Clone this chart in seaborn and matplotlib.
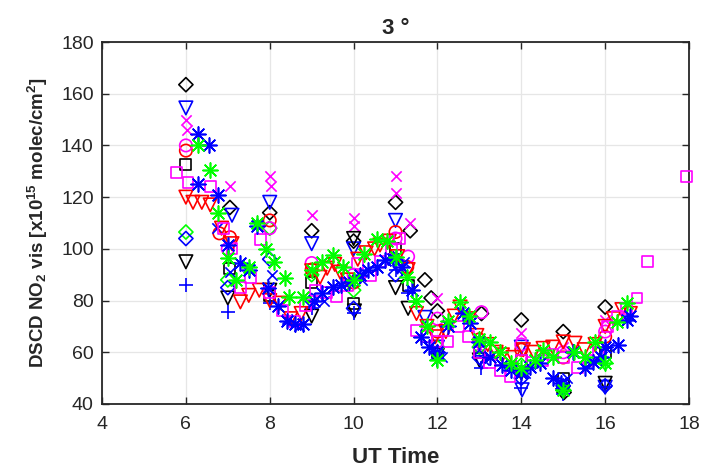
import matplotlib
matplotlib.use("Agg")
import matplotlib.pyplot as plt
import seaborn as sns

# ---- data: UT time (h) and NO2 DSCD (x1e15 molec/cm2), one pair per marker set ----
kd_t = [6.0, 7.05, 8.0, 9.0, 10.0, 11.0, 11.35, 11.7, 11.85, 12.0, 13.05, 14.0, 15.0, 15.02, 16.0]
kd_v = [163.5, 116, 114, 107, 103, 118, 107, 88, 81, 76, 75, 72.5, 68, 44.5, 77.5]

bv_t = [6.0, 7.1, 8.0, 9.0, 10.0, 11.0, 11.05, 11.7, 12.0, 13.05, 14.0, 14.02, 15.0, 16.0]
bv_v = [154.5, 113, 118, 102, 100, 111, 93, 73.5, 62, 56, 62, 45.5, 46.5, 46.5]

mx_t = [6.0, 6.02, 7.05, 8.0, 8.02, 9.0, 10.0, 10.02, 11.0, 11.02, 11.35, 12.0, 13.0, 14.0, 15.0, 16.0]
mx_v = [150, 146, 124.5, 128, 124.5, 113, 112, 109, 128, 121.5, 110, 81, 62, 67.5, 62, 72.5]

ks_t = [6.0, 7.05, 8.0, 9.0, 10.0, 11.0, 11.3, 12.0, 13.0, 14.0, 15.0, 16.0]
ks_v = [132.5, 92.5, 82, 87, 79, 100, 86, 60, 60, 57, 50, 60]

kv_t = [6.0, 7.0, 8.0, 9.0, 10.0, 10.02, 11.0, 11.3, 12.0, 13.0, 14.0, 15.0, 16.0]
kv_v = [95, 81, 84, 74, 104, 76, 85, 77, 59, 57, 52, 44.5, 48]

bp_t = [6.0, 7.0, 8.0, 9.0, 10.0, 11.0, 11.3, 12.0, 13.05, 14.0, 15.0, 16.0]
bp_v = [86, 75.5, 79, 77, 75, 92, 83, 57, 54, 46, 44, 46.5]

gd_t = [6.0, 7.0, 8.0, 9.0, 10.0, 11.0, 12.0, 13.0, 14.0, 15.0, 16.0]
gd_v = [106.5, 88, 108, 90, 84, 96, 62, 62, 55, 45.5, 56]

bd_t = [6.0, 7.0, 8.0, 9.0, 10.0, 11.0, 12.0, 13.0, 14.0, 15.0, 16.0]
bd_v = [104, 85, 96, 80, 77, 90, 60, 58, 50, 47, 47]

ro_t = [6.0, 6.8, 7.05, 8.0, 9.0, 10.0, 11.0, 11.28, 12.0, 13.0, 14.0, 15.0, 16.0]
ro_v = [138, 106, 104.5, 111, 92, 87, 106.5, 93, 68, 65, 61, 58, 66]

mo_t = [6.0, 7.0, 8.0, 9.0, 10.0, 11.0, 11.3, 12.0, 13.05, 14.0, 15.0, 16.0]
mo_v = [140, 100, 108, 94.5, 90, 104, 97, 73, 75.5, 63, 60, 68]

bx_t = [6.74, 7.05, 8.05, 8.4, 8.7, 9.3, 10.2, 11.2, 12.1, 13.1, 14.1, 15.1, 16.1]
bx_v = [108, 91, 90, 73, 70, 80, 88, 95, 58, 57, 52, 50, 62]

rv_t = [6.0, 6.17, 6.38, 6.58, 6.85, 7.1, 7.3, 7.5, 7.75, 8.0, 8.24, 8.5, 8.75, 9.0, 9.2,
        9.37, 9.55, 9.68, 9.85, 10.1, 10.3, 10.5, 10.63, 10.85, 11.05, 11.3, 11.5, 11.75,
        11.95, 12.2, 12.4, 12.54, 12.75, 12.94, 13.2, 13.4, 13.55, 13.8, 14.05, 14.3, 14.52,
        14.75, 15.0, 15.28, 15.5, 15.76, 16.0, 16.2, 16.4, 16.6]
rv_v = [120, 118, 118, 117, 108, 102, 79.5, 82, 84, 80, 79, 73, 75, 91.5, 89,
        92.5, 94, 91, 88, 96, 98.5, 100, 101.5, 103, 97, 92, 75, 70,
        66, 68, 74, 77.5, 73, 66.5, 63, 60, 59, 58, 61, 60, 61.5,
        62, 64, 63.5, 61, 63, 70, 73, 76.5, 75]

ms_t = [5.78, 6.05, 6.58, 6.9, 7.1, 7.3, 7.53, 7.77, 8.0, 8.3, 8.6, 8.85, 9.1, 9.35, 9.6,
        9.85, 10.1, 10.4, 10.65, 10.9, 11.1, 11.5, 11.75, 12.0, 12.25, 12.5, 12.75, 13.0,
        13.25, 13.5, 13.73, 14.0, 14.25, 14.5, 14.75, 15.0, 15.33, 15.6, 15.85, 16.05, 16.3,
        16.5, 16.76, 17.02, 17.93]
ms_v = [129.5, 125.5, 124, 108, 100, 85, 89, 103.5, 83, 76, 72, 78, 84, 83, 81.5,
        86, 94.5, 89.5, 95, 100, 104, 68.5, 66, 64, 64, 70, 66, 60,
        56, 53, 50.5, 57, 56, 57, 59, 58, 54, 57, 60, 70, 74,
        77, 81, 95, 128]

bs_t = [6.29, 6.29, 6.55, 6.77, 7.0, 7.3, 7.5, 7.7, 7.95, 8.2, 8.4, 8.6, 8.8, 9.05, 9.25,
        9.5, 9.7, 9.9, 10.15, 10.35, 10.56, 10.75, 10.95, 11.15, 11.4, 11.6, 11.8, 12.0,
        12.25, 12.6, 12.78, 13.0, 13.25, 13.55, 13.75, 14.0, 14.2, 14.45, 14.76, 14.95,
        15.24, 15.52, 15.7, 15.9, 16.0, 16.3, 16.52, 16.6]
bs_v = [144.5, 125, 140, 121, 101.5, 94.5, 92, 109, 85, 78, 72, 71, 71, 80, 83,
        85.3, 86, 87, 90, 92, 93, 95.7, 96, 93, 84, 66, 62, 60,
        70, 75, 71.3, 64, 58, 55, 53, 52, 54.4, 56, 50, 48,
        60, 53.8, 56.4, 58, 62, 62.8, 72.5, 74]

gs_t = [6.29, 6.58, 6.77, 7.0, 7.2, 7.5, 7.7, 7.9, 8.1, 8.37, 8.47, 8.8, 9.0, 9.25, 9.5,
        9.75, 10.0, 10.25, 10.56, 10.8, 11.0, 11.28, 11.5, 11.75, 12.0, 12.25, 12.54, 12.75,
        13.0, 13.25, 13.5, 13.75, 14.0, 14.33, 14.52, 14.75, 15.0, 15.25, 15.52, 15.76,
        16.0, 16.28, 16.52]
gs_v = [140, 130.5, 114, 96.5, 88, 93, 110, 100, 95, 88.7, 81.4, 81.4, 92, 95, 97.6,
        93, 88, 98, 104, 103, 97, 89, 80, 70, 57, 72, 79.4, 74,
        65, 64, 60, 56, 54, 57, 61, 58, 45.5, 60, 58, 64,
        56, 71.7, 79]

x_ticks = [4, 6, 8, 10, 12, 14, 16, 18]
y_ticks = [40, 60, 80, 100, 120, 140, 160, 180]

# ---- style ----
sns.set_style("ticks")
plt.rcParams["font.family"] = ["Liberation Sans", "DejaVu Sans"]
plt.rcParams["mathtext.fontset"] = "custom"
plt.rcParams["mathtext.rm"] = "Liberation Sans"
plt.rcParams["mathtext.bf"] = "Liberation Sans:bold"
plt.rcParams["mathtext.default"] = "bf"

ASTERISK = (8, 2, 0)
series = [
    (kd_t, kd_v, "D", "black", 52),
    (bv_t, bv_v, "v", "blue", 95),
    (mx_t, mx_v, "x", "magenta", 55),
    (ks_t, ks_v, "s", "black", 62),
    (kv_t, kv_v, "v", "black", 95),
    (bp_t, bp_v, "+", "blue", 95),
    (gd_t, gd_v, "D", "lime", 52),
    (bd_t, bd_v, "D", "blue", 52),
    (ro_t, ro_v, "o", "red", 80),
    (mo_t, mo_v, "o", "magenta", 80),
    (bx_t, bx_v, "x", "blue", 55),
    (rv_t, rv_v, "v", "red", 95),
    (ms_t, ms_v, "s", "magenta", 62),
    (bs_t, bs_v, ASTERISK, "blue", 115),
    (gs_t, gs_v, ASTERISK, "lime", 115),
]

fig = plt.figure(figsize=(7.16, 4.73), dpi=100)
ax = fig.add_axes([0.1425, 0.1459, 0.8198, 0.7653])

for t, v, m, c, s in series:
    if m in ("x", "+") or isinstance(m, tuple):
        sns.scatterplot(x=t, y=v, ax=ax, marker=m, color=c, s=s,
                        linewidth=1.2, legend=False, zorder=3, clip_on=False)
    else:
        sns.scatterplot(x=t, y=v, ax=ax, marker=m, facecolor="none",
                        edgecolor=c, s=s, linewidth=1.2, legend=False, zorder=3,
                        clip_on=False)

ax.set_xlim(4, 18)
ax.set_ylim(40, 180)
ax.set_xticks(x_ticks)
ax.set_yticks(y_ticks)
ax.grid(True, color="#e6e6e6", linewidth=0.9, zorder=0)
ax.set_axisbelow(True)

ax.tick_params(direction="in", length=5, width=1.0, top=True, right=True,
               labelsize=14, colors="#262626", labelcolor="#262626")
ax.tick_params(axis="x", pad=9)
ax.tick_params(axis="y", pad=6)
for sp in ax.spines.values():
    sp.set_visible(True)
    sp.set_color("#262626")
    sp.set_linewidth(1.3)

ax.set_title("3 °", fontsize=16, fontweight="bold", pad=6)
ax.set_xlabel("UT Time", fontsize=16, fontweight="bold", labelpad=10)
ax.set_ylabel("DSCD NO$_2$ vis [x10$^{15}$ molec/cm$^2$]", fontsize=13.5,
              fontweight="bold", labelpad=8)

fig.savefig("out.png", dpi=100)
